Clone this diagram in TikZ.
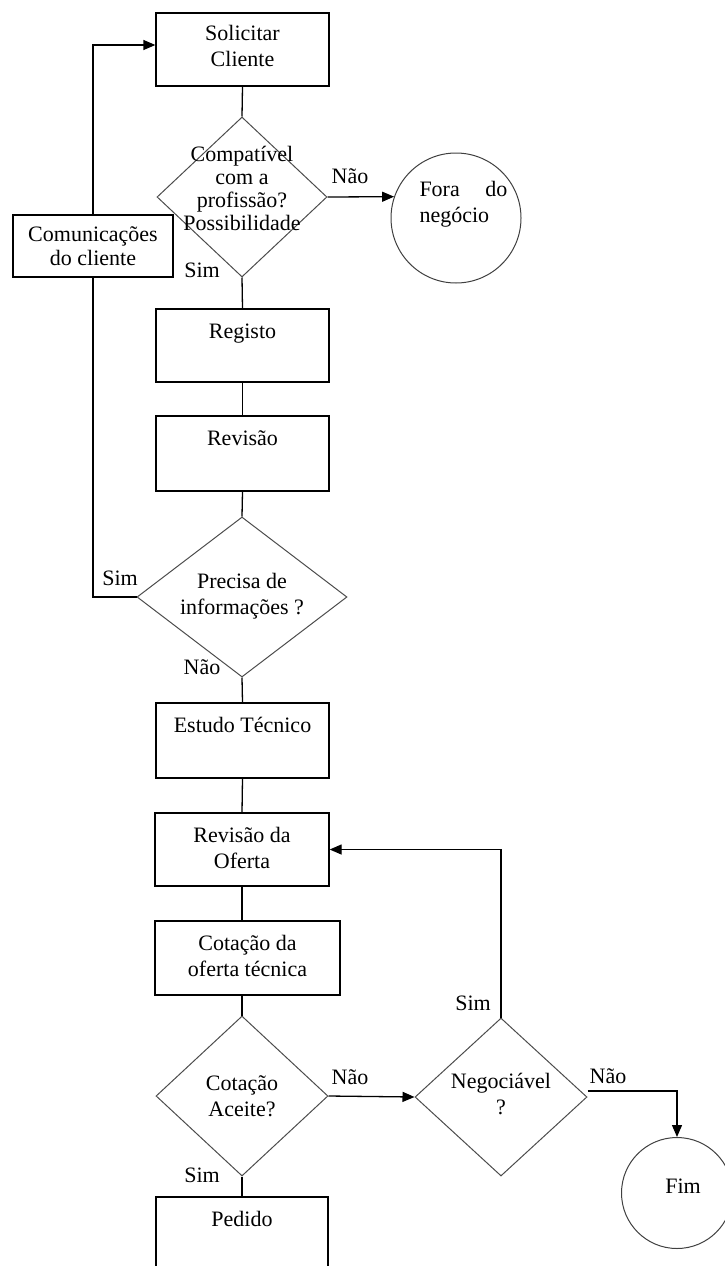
\documentclass[tikz,border=0pt]{standalone}
\usepackage{fontspec}
\setmainfont{Liberation Serif}
\usetikzlibrary{shapes.geometric,arrows.meta,calc}
\begin{document}
\begin{tikzpicture}[x=1pt,y=-1pt,
  font=\fontsize{22}{26}\selectfont,
  stepbox/.style={draw=black, line width=1.3pt, rectangle, inner sep=0pt},
  decision/.style={draw=black!70, line width=1pt, diamond, inner sep=0pt},
  terminal/.style={draw=black!75, line width=1pt, circle, inner sep=0pt},
  boxtext/.style={anchor=north, inner sep=15pt, align=center},
  qtext/.style={align=center, inner sep=0pt},
  tag/.style={inner sep=0pt},
  link/.style={line width=1.3pt},
  flow/.style={link, -{Triangle[length=12pt,width=10pt]}},
]
\useasboundingbox (0,0) rectangle (725,1266);
\clip (0,0) rectangle (725,1266);

% process boxes
\node[stepbox, minimum width=173pt, minimum height=73pt] (sol) at (242.5,49.5) {};
\node[boxtext, inner sep=13pt] (sol-t) at (sol.north) {Solicitar\\Cliente};
\node[stepbox, minimum width=160pt, minimum height=62pt, align=center,
      font=\fontsize{22}{24}\selectfont] (com) at (93,246) {Comunicações\\do cliente};
\node[stepbox, minimum width=173pt, minimum height=73pt] (reg) at (242.5,345.5) {};
\node[boxtext] (reg-t) at (reg.north) {Registo};
\node[stepbox, minimum width=173pt, minimum height=75pt] (rev) at (242.5,453.5) {};
\node[boxtext] (rev-t) at (rev.north) {Revisão};
\node[stepbox, minimum width=173pt, minimum height=75pt] (est) at (242.5,740.5) {};
\node[boxtext] (est-t) at (est.north) {Estudo Técnico};
\node[stepbox, minimum width=174pt, minimum height=73pt] (rof) at (242,849.5) {};
\node[boxtext] (rof-t) at (rof.north) {Revisão da\\Oferta};
\node[stepbox, minimum width=185pt, minimum height=74pt] (cot) at (247.5,958) {};
\node[boxtext] (cot-t) at (cot.north) {Cotação da\\oferta técnica};
\node[stepbox, minimum width=172pt, minimum height=120pt] (ped) at (242,1257) {};
\node[boxtext] (ped-t) at (ped.north) {Pedido};

% decisions
\node[decision, minimum width=170pt, minimum height=160pt] (d1) at (242,197) {};
\node[qtext, font=\fontsize{22}{23}\selectfont] (d1-t) at (242,188)
  {Compatível\\com a\\profissão?\\Possibilidade};
\node[decision, minimum width=210pt, minimum height=160pt] (d2) at (242,597) {};
\node[qtext] (d2-t) at (242,596) {Precisa de\\informações ?};
\node[decision, minimum width=172pt, minimum height=160pt] (d3) at (242,1096) {};
\node[qtext] (d3-t) at (242,1096) {Cotação\\Aceite?};
\node[decision, minimum width=172pt, minimum height=158pt] (d4) at (501,1097) {};
\node[qtext] (d4-t) at (501,1094) {Negociável\\?};

% terminals
\node[terminal, minimum size=130pt] (fora) at (456,218) {};
\node[text width=88pt, align=justify, inner sep=0pt] (fora-t) at (463.5,204) {Fora do negócio};
\node[terminal, minimum size=111pt] (fim) at (677,1193) {};
\node[tag] (fim-t) at (683,1186) {Fim};

% connectors
\draw[flow] (com.north) |- ([yshift=4.5pt]sol.west);
\draw[link] (sol.south) -- (d1.north);
\draw[flow] (d1.east) -- (fora.161);
\draw[link] (d1.south) -- (reg.north);
\draw[link] (reg.south) -- (rev.north);
\draw[link] (rev.south) -- (d2.north);
\draw[link] (d2.west) -| (com.south);
\draw[link] (d2.south) -- (est.north);
\draw[link] (est.south) -- (rof.north);
\draw[link] (rof.south) -- (rof.south |- cot.north);
\draw[link] (cot.south -| d3.north) -- (d3.north);
\draw[link] (d3.south) -- (ped.north);
\draw[flow] (d3.east) -- (d4.west);
\draw[flow] (d4.north) |- (rof.east);
\draw[flow] ([yshift=6pt]d4.east) -| (fim.north);

% branch labels
\node[tag] (n1) at (350,176) {Não};
\node[tag] (s1) at (202,270) {Sim};
\node[tag] (s2) at (120,578) {Sim};
\node[tag] (n2) at (202,667) {Não};
\node[tag] (s3) at (473,1003) {Sim};
\node[tag] (n3) at (350,1077) {Não};
\node[tag] (s4) at (202,1175) {Sim};
\node[tag] (n4) at (608,1076) {Não};
\end{tikzpicture}
\end{document}
